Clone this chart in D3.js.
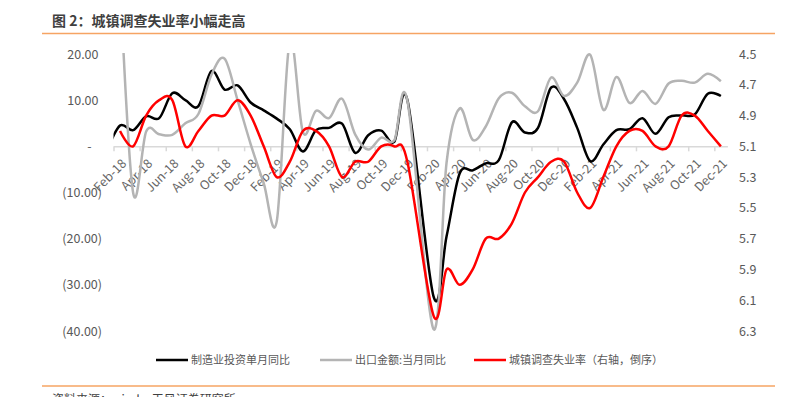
<!DOCTYPE html>
<html><head><meta charset="utf-8">
<script src="https://cdn.jsdelivr.net/npm/d3@7"></script>
<style>body{margin:0;background:#fff;overflow:hidden}</style>
</head><body>
<svg id="c" width="785" height="397"></svg>
<script>
// ---- data ----
const months = [
 "Jan-18","Feb-18","Mar-18","Apr-18","May-18","Jun-18","Jul-18","Aug-18","Sep-18","Oct-18","Nov-18","Dec-18",
 "Jan-19","Feb-19","Mar-19","Apr-19","May-19","Jun-19","Jul-19","Aug-19","Sep-19","Oct-19","Nov-19","Dec-19",
 "Jan-20","Feb-20","Mar-20","Apr-20","May-20","Jun-20","Jul-20","Aug-20","Sep-20","Oct-20","Nov-20","Dec-20",
 "Jan-21","Feb-21","Mar-21","Apr-21","May-21","Jun-21","Jul-21","Aug-21","Sep-21","Oct-21","Nov-21","Dec-21"];
// 制造业投资单月同比 (left axis, %)
const mfgInvest = [
 -1.0, 4.5, 3.5, 6.5, 6.1, 11.5, 10.0, 8.7, 16.3, 12.3, 13.2, 9.5,
 7.8, 6.0, 3.7, -1.1, 3.5, 4.0, 4.9, -1.4, 2.4, 3.4, 1.0, 10.0,
 null, -32.5, -19.5, -5.9, -5.2, -3.7, -3.0, 5.2, 3.0, 4.0, 12.7, 10.2,
 4.0, -3.2, 0.4, 3.5, 3.7, 6.1, 2.7, 6.3, 6.7, 6.9, 11.4, 10.9];
// 出口金额:当月同比 (left axis, %)
const exportYoY = [
 null, 36.0, -10.0, 3.2, 2.6, 2.5, 5.0, 7.0, 15.5, 19.0, 10.0, 0.5,
 -8.0, -16.2, 23.0, 3.1, 7.7, 6.1, 10.3, 2.6, -0.7, 1.9, 1.3, 9.9,
 null, -39.6, -3.5, 8.2, 1.4, 4.3, 10.4, 11.6, 8.7, 7.6, 14.9, 10.9,
 13.8, 19.8, 7.9, 15.0, 9.4, 12.0, 9.2, 13.6, 14.2, 13.8, 15.7, 14.1];
// 城镇调查失业率 (right axis, reversed, %)
const unemployment = [
 null, 5.0, 5.1, 4.9, 4.8, 4.8, 5.1, 5.0, 4.9, 4.9, 4.8, 4.9,
 5.1, 5.3, 5.2, 5.0, 5.0, 5.1, 5.3, 5.2, 5.2, 5.1, 5.1, 5.2,
 null, 6.2, 5.9, 6.0, 5.9, 5.7, 5.7, 5.6, 5.4, 5.3, 5.2, 5.2,
 5.4, 5.5, 5.3, 5.1, 5.0, 5.0, 5.1, 5.1, 4.9, 4.9, 5.0, 5.1];
const leftTicks = [20, 10, 0, -10, -20, -30, -40];
const rightTicks = [4.5, 4.7, 4.9, 5.1, 5.3, 5.5, 5.7, 5.9, 6.1, 6.3];
const seriesNames = ["制造业投资单月同比", "出口金额:当月同比", "城镇调查失业率（右轴，倒序）"];
const titleText = "图 2：城镇调查失业率小幅走高";
const sourceText = "资料来源：wind，天风证券研究所";

// ---- layout ----
const FONT = "'Noto Sans CJK SC','Noto Sans',sans-serif";
const plot = {left:113.5, right:727.4, top:54, bottom:331};
const svg = d3.select("#c").style("font-family", FONT);

const x = d3.scaleLinear().domain([0.5, months.length - 0.5]).range([plot.left, plot.right]);
const yL = d3.scaleLinear().domain([-40, 20]).range([plot.bottom, plot.top]);
const yR = d3.scaleLinear().domain([4.5, 6.3]).range([plot.top, plot.bottom]);

// title & rules
svg.append("text").attr("x", 52).attr("y", 26).text(titleText)
  .attr("font-size", 14).attr("font-weight", "bold").attr("fill", "#3f3f3f");
svg.append("line").attr("x1", 42).attr("x2", 775).attr("y1", 33.5).attr("y2", 33.5)
  .attr("stroke", "#F6A463").attr("stroke-width", 1.3);
svg.append("line").attr("x1", 42).attr("x2", 775).attr("y1", 386).attr("y2", 386)
  .attr("stroke", "#F6A463").attr("stroke-width", 1.3);
svg.append("text").attr("x", 52).attr("y", 404).text(sourceText)
  .attr("font-size", 12).attr("fill", "#404040");

// x axis at zero
const boundaries = d3.range(0.5, months.length - 0.5, 2);
const xAxis = svg.append("g").attr("transform", `translate(0,${yL(0)})`)
  .call(d3.axisBottom(x).tickValues(boundaries).tickSize(5).tickSizeOuter(0).tickFormat(""));
xAxis.selectAll("path,line").attr("stroke", "#D9D9D9").attr("stroke-width", 1.5);

// x labels
const labelIdx = d3.range(1, months.length, 2);
svg.append("g").selectAll("text").data(labelIdx).join("text")
  .attr("transform", i => `translate(${x(i) + 4},${yL(0) + 15}) rotate(-45)`)
  .attr("text-anchor", "end").attr("dy", "0.35em")
  .attr("font-size", 12.5).attr("fill", "#666666")
  .text(i => months[i]);

// left axis
const fmtL = v => v === 0 ? "-" : v < 0 ? "(" + d3.format(".2f")(-v) + ")" : d3.format(".2f")(v);
const gL = svg.append("g").attr("transform", "translate(98.5,0)")
  .call(d3.axisLeft(yL).tickValues(leftTicks).tickSize(0).tickPadding(0).tickFormat(fmtL));
gL.select(".domain").remove();
gL.selectAll("text").attr("font-size", 12.5).attr("fill", "#595959").attr("font-family", FONT)
  .attr("dx", d => d < 0 ? 3.5 : d === 0 ? -7 : 0);

// right axis
const gR = svg.append("g").attr("transform", "translate(739,0)")
  .call(d3.axisRight(yR).tickValues(rightTicks).tickSize(0).tickPadding(0).tickFormat(d3.format(".1f")));
gR.select(".domain").remove();
gR.selectAll("text").attr("font-size", 12.5).attr("fill", "#595959").attr("font-family", FONT);

// clip
svg.append("clipPath").attr("id", "pc").append("rect")
  .attr("x", plot.left).attr("y", plot.top - 1)
  .attr("width", plot.right - plot.left).attr("height", plot.bottom - plot.top + 2);

const series = [
  {vals: mfgInvest, y: yL, color: "#000000"},
  {vals: exportYoY, y: yL, color: "#B4B4B4"},
  {vals: unemployment, y: yR, color: "#FF0000"}
];
const lines = svg.append("g").attr("clip-path", "url(#pc)");
series.forEach(s => {
  const pts = s.vals.map((v, i) => ({i, v})).filter(d => d.v !== null);
  const line = d3.line().x(d => x(d.i)).y(d => s.y(d.v)).curve(d3.curveCardinal.tension(0));
  lines.append("path").attr("d", line(pts)).attr("fill", "none")
    .attr("stroke", s.color).attr("stroke-width", 2.5).attr("stroke-linejoin", "round");
});

// legend
const legendX = [156, 320, 474];
const lg = svg.append("g").attr("transform", "translate(0,360)");
seriesNames.forEach((n, k) => {
  lg.append("line").attr("x1", legendX[k]).attr("x2", legendX[k] + 32).attr("y1", 0).attr("y2", 0)
    .attr("stroke", series[k].color).attr("stroke-width", 2.5);
  lg.append("text").attr("x", legendX[k] + 35).attr("y", 0).attr("dy", "0.35em")
    .attr("font-size", 11).attr("fill", "#595959").text(n);
});
</script>
</body></html>
